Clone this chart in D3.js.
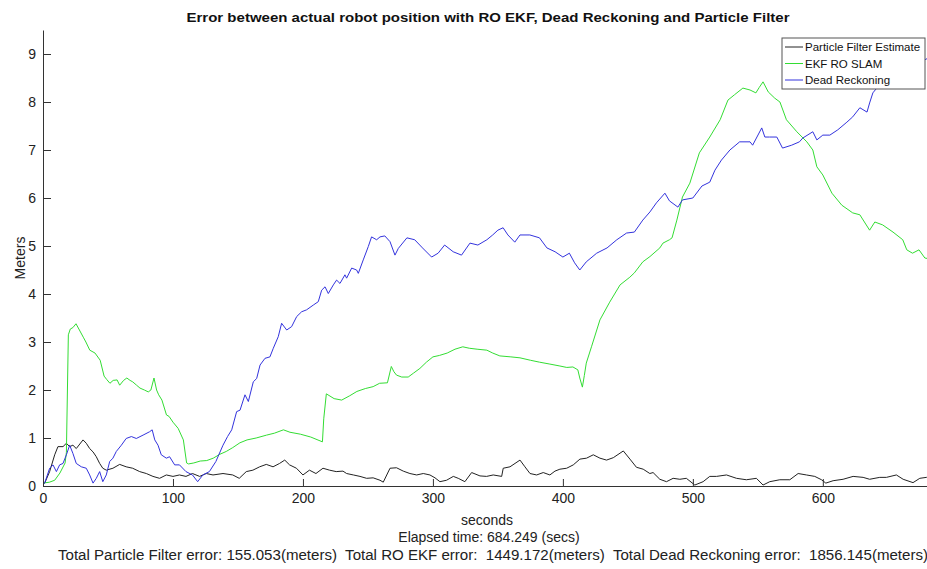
<!DOCTYPE html>
<html>
<head>
<meta charset="utf-8">
<script src="https://cdn.jsdelivr.net/npm/d3@7"></script>
<style>
  body { margin: 0; background: #fff; }
  text { font-family: Arial, "Liberation Sans", sans-serif; }
</style>
</head>
<body>
<svg id="chart"></svg>
<script>
// error curves, [seconds, meters]
var particleFilter = [[0,0.04],[1.3,0.06],[5.1,0.3],[9,0.65],[11.5,0.82],[15.4,0.82],[18,0.89],[20.5,0.82],[23,0.85],[25.6,0.78],[30.8,0.96],[33.3,0.89],[35.9,0.78],[38.5,0.71],[41,0.61],[43.6,0.47],[46,0.37],[48.7,0.33],[53.8,0.37],[59,0.45],[64,0.4],[69,0.37],[74.4,0.3],[79.5,0.26],[84.6,0.2],[89.7,0.16],[94.9,0.23],[100,0.2],[105,0.23],[110,0.2],[115,0.26],[120.5,0.2],[125.6,0.26],[130.8,0.23],[138.5,0.26],[146,0.23],[151,0.16],[156.4,0.3],[161.5,0.33],[166.7,0.4],[171.8,0.45],[177,0.4],[182,0.47],[186,0.54],[189.7,0.44],[195,0.37],[200,0.23],[205,0.33],[210,0.26],[215.4,0.37],[220.5,0.33],[225.6,0.3],[230.8,0.31],[233.6,0.26],[238.8,0.23],[243.9,0.2],[249,0.16],[254,0.17],[259.3,0.12],[261.8,0.08],[267,0.37],[272,0.38],[277.2,0.31],[282.3,0.26],[287.5,0.23],[292.6,0.26],[297.7,0.23],[301.6,0.17],[305.4,0.09],[310.5,0.12],[315.7,0.2],[319.5,0.16],[324.6,0.09],[329.8,0.28],[336.2,0.21],[341.3,0.2],[346.4,0.23],[352.9,0.2],[354.1,0.37],[359.3,0.4],[367,0.54],[370.8,0.4],[374.7,0.26],[379.8,0.23],[384.9,0.28],[390,0.23],[393.9,0.31],[397.7,0.35],[402.9,0.37],[408,0.44],[413.1,0.56],[418.2,0.58],[423.4,0.65],[428.5,0.58],[433.6,0.54],[438.8,0.59],[446.5,0.73],[451.6,0.56],[456.6,0.39],[461.8,0.35],[466.9,0.26],[469.4,0.28],[474.6,0.14],[479.7,0.09],[484.8,0.16],[490,0.14],[495,0.16],[501.5,0.02],[507.9,0.09],[513,0.2],[518.2,0.2],[525.9,0.23],[533.6,0.16],[541.2,0.13],[548.9,0.16],[554,0.02],[559.2,0.09],[566.9,0.13],[574.6,0.13],[581,0.26],[587.4,0.23],[593.8,0.2],[599,0.13],[602.3,0.06],[607.9,0.11],[615.6,0.14],[623.3,0.2],[631,0.18],[636,0.14],[643.8,0.18],[648.9,0.18],[656.6,0.23],[661.8,0.14],[669.4,0.07],[674.6,0.16],[679.7,0.18],[684,0.17]];

var ekfSlam = [[0,0.06],[5,0.08],[9,0.12],[13,0.27],[17,0.48],[18,0.7],[18.8,2.0],[19.5,3.15],[21,3.27],[23,3.3],[25.4,3.38],[28,3.25],[31,3.1],[33,3.0],[36,2.83],[40,2.77],[44,2.62],[47,2.29],[49,2.22],[51.5,2.14],[54,2.2],[57,2.21],[59,2.1],[62,2.2],[64.5,2.25],[67,2.2],[69,2.17],[72,2.1],[74.6,2.04],[78,2.0],[81,1.96],[83,2.0],[85.4,2.25],[87.4,2.0],[89,1.9],[91.5,1.79],[95,1.48],[97,1.45],[100,1.33],[104,1.2],[108,0.96],[110.5,0.48],[112,0.46],[116,0.48],[121,0.52],[126,0.53],[131,0.58],[136,0.66],[141,0.72],[146,0.8],[151.5,0.9],[157,0.96],[164,1.0],[172,1.06],[178,1.1],[185,1.17],[190,1.12],[198,1.08],[206,1.02],[215,0.92],[216,1.4],[218,1.92],[224,1.82],[229.8,1.79],[236,1.88],[241.5,1.97],[248,2.03],[254,2.07],[259,2.14],[265,2.15],[268,2.49],[270,2.38],[272,2.31],[276,2.27],[281,2.27],[285,2.35],[290,2.45],[295,2.58],[300,2.69],[305,2.72],[311,2.77],[317,2.85],[323,2.9],[328,2.87],[334,2.85],[341.5,2.83],[346,2.77],[351.5,2.71],[360,2.69],[367,2.67],[375,2.62],[382,2.58],[390,2.54],[397.7,2.5],[403,2.47],[407.7,2.48],[411.5,2.42],[413,2.25],[415,2.06],[416.5,2.3],[418,2.56],[422,2.9],[428.5,3.46],[436,3.83],[444,4.19],[451.5,4.35],[455,4.44],[461.5,4.67],[467,4.78],[474.6,4.96],[477,5.06],[482,5.13],[484,5.17],[487.7,5.54],[492,6.02],[497.7,6.31],[505,6.94],[513,7.27],[521,7.63],[527,8.04],[532,8.15],[538.5,8.29],[544,8.25],[548.5,8.19],[551,8.3],[554,8.42],[558,8.21],[563,8.08],[567,8.0],[572,7.63],[580,7.38],[587.7,7.17],[592.3,7.0],[595.4,6.65],[600,6.48],[607,6.1],[614.6,5.85],[623,5.69],[628.5,5.65],[632,5.5],[636,5.33],[640,5.5],[646,5.44],[654,5.29],[661.5,5.13],[664.6,4.92],[669,4.85],[674,4.92],[678.5,4.75],[684,4.72]];

var deadReckoning = [[0,0.05],[1.3,0.06],[5.1,0.37],[7.7,0.44],[10.3,0.3],[12.8,0.44],[15.4,0.47],[18,0.65],[20.5,0.85],[23,0.68],[25.6,0.47],[29.5,0.4],[33.3,0.37],[35.9,0.23],[38.5,0.06],[41,0.16],[43.6,0.3],[46,0.09],[48.7,0.23],[51.3,0.51],[53.8,0.58],[56.4,0.72],[60.3,0.85],[64,0.99],[68,1.03],[71.8,0.99],[77,1.06],[82,1.13],[84,1.17],[86,0.96],[88.5,0.85],[91,0.65],[94.9,0.58],[97.4,0.61],[101.3,0.44],[105,0.44],[110,0.3],[115,0.23],[119,0.09],[123,0.23],[128,0.3],[133,0.51],[138.5,0.85],[142,1.03],[145.2,1.17],[149,1.55],[151.6,1.58],[155.4,1.9],[158,1.76],[161.8,2.17],[164.4,2.24],[167,2.52],[170.8,2.66],[174.6,2.69],[177.2,2.87],[181,3.11],[183.6,3.39],[187.5,3.25],[191.3,3.32],[195.2,3.53],[199,3.63],[202.8,3.67],[208,3.77],[211.8,3.84],[214.4,4.08],[217,4.15],[219.5,4.01],[223.4,4.19],[225.9,4.29],[228.5,4.22],[232.3,4.4],[233.6,4.33],[237.5,4.54],[241.3,4.5],[242.6,4.43],[246.4,4.71],[250.3,4.99],[252.8,5.19],[256.7,5.13],[259.3,5.19],[263,5.21],[267,5.09],[270.8,4.81],[273.4,4.95],[280,5.17],[286,5.13],[292,4.96],[299,4.77],[304,4.85],[309,5.02],[315.6,4.88],[322,4.81],[328.5,5.06],[334.6,5.02],[341.5,5.13],[346,5.23],[350,5.33],[354,5.38],[357.7,5.23],[363,5.08],[367,5.23],[374.6,5.23],[382,5.17],[387.7,4.96],[394,4.88],[400,4.77],[405,4.85],[409,4.65],[413,4.5],[418,4.67],[426,4.85],[434,4.96],[441.5,5.13],[449,5.27],[455,5.29],[461.5,5.54],[467,5.71],[472,5.9],[478.5,6.1],[482,5.94],[488.5,5.81],[492,5.96],[500,6.0],[507,6.25],[513,6.33],[517,6.58],[522,6.79],[528.5,7.0],[536,7.17],[544,7.17],[546,7.1],[553,7.46],[555.4,7.27],[559,7.27],[564.6,7.27],[569,7.04],[576,7.1],[582,7.17],[584.6,7.25],[592.3,7.38],[595.4,7.21],[600,7.31],[605.4,7.31],[611.5,7.42],[618.5,7.58],[623,7.69],[628.5,7.88],[634,7.79],[636,7.98],[638.5,8.19],[641.5,8.29],[648,8.4],[660,8.6],[672,8.8],[684,8.95]];

var seriesNames = ["Particle Filter Estimate", "EKF RO SLAM", "Dead Reckoning"];
var seriesColors = ["#222222", "#33dd33", "#3333dd"];
var xTicks = [0, 100, 200, 300, 400, 500, 600];
var yTicks = [0, 1, 2, 3, 4, 5, 6, 7, 8, 9];

var titleText = "Error between actual robot position with RO EKF, Dead Reckoning and Particle Filter";
var elapsedText = "Elapsed time: 684.249 (secs)";
var totalsText = "Total Particle Filter error: 155.053(meters)  Total RO EKF error:  1449.172(meters)  Total Dead Reckoning error:  1856.145(meters)";

var W = 927, H = 569;
var margin = { top: 30, left: 43, bottom: 83 };
var plotW = 889; // axes run past the right edge of the picture
var plotH = H - margin.top - margin.bottom;

var svg = d3.select("#chart").attr("width", W).attr("height", H);

var x = d3.scaleLinear().domain([0, 684]).range([margin.left, margin.left + plotW]);
var y = d3.scaleLinear().domain([0, 9.5]).range([margin.top + plotH, margin.top]);

svg.append("defs").append("clipPath").attr("id", "plot-clip")
    .append("rect")
    .attr("x", margin.left).attr("y", margin.top)
    .attr("width", plotW).attr("height", plotH);

// title
svg.append("text")
    .attr("x", 488).attr("y", 22)
    .attr("text-anchor", "middle")
    .attr("font-size", 13).attr("font-weight", "bold")
    .attr("textLength", 603).attr("lengthAdjust", "spacingAndGlyphs")
    .attr("fill", "#111")
    .text(titleText);

// lines
var line = d3.line().x(function(d) { return x(d[0]); }).y(function(d) { return y(d[1]); });
var allSeries = [particleFilter, ekfSlam, deadReckoning];

svg.append("g").attr("clip-path", "url(#plot-clip)")
    .selectAll("path")
    .data(allSeries)
    .enter().append("path")
    .attr("fill", "none")
    .attr("stroke", function(d, i) { return seriesColors[i]; })
    .attr("stroke-width", 1)
    .attr("stroke-linejoin", "round")
    .attr("d", line);

// axes with inward ticks, matlab style
var xAxis = svg.append("g")
    .attr("transform", "translate(0," + (margin.top + plotH) + ")")
    .call(d3.axisBottom(x).tickValues(xTicks).tickSizeInner(-7).tickSizeOuter(0).tickPadding(7));
var yAxis = svg.append("g")
    .attr("transform", "translate(" + margin.left + ",0)")
    .call(d3.axisLeft(y).tickValues(yTicks).tickSizeInner(-8).tickSizeOuter(0).tickPadding(7));

[xAxis, yAxis].forEach(function(ax) {
    ax.select(".domain").attr("stroke", "#333");
    ax.selectAll(".tick line").attr("stroke", "#333");
    ax.selectAll(".tick text")
        .attr("font-family", "Arial, 'Liberation Sans', sans-serif")
        .attr("font-size", 14).attr("fill", "#222");
});

// axis labels
svg.append("text")
    .attr("transform", "translate(25," + (margin.top + plotH / 2) + ") rotate(-90)")
    .attr("text-anchor", "middle")
    .attr("font-size", 14).attr("fill", "#222")
    .text("Meters");

svg.append("text")
    .attr("x", 487).attr("y", 525)
    .attr("text-anchor", "middle")
    .attr("font-size", 14).attr("fill", "#222")
    .text("seconds");

svg.append("text")
    .attr("x", 489).attr("y", 542)
    .attr("text-anchor", "middle")
    .attr("font-size", 14).attr("fill", "#222")
    .text(elapsedText);

svg.append("text")
    .attr("x", 58).attr("y", 560)
    .attr("font-size", 14).attr("fill", "#222")
    .style("white-space", "pre")
    .attr("textLength", 870).attr("lengthAdjust", "spacingAndGlyphs")
    .text(totalsText);

// legend
var legend = svg.append("g").attr("transform", "translate(782,38)");
legend.append("rect")
    .attr("width", 143).attr("height", 51)
    .attr("fill", "#fff").attr("stroke", "#555").attr("stroke-width", 1);

legend.selectAll("g.entry")
    .data(seriesNames)
    .enter().append("g")
    .attr("class", "entry")
    .attr("transform", function(d, i) { return "translate(0," + (9 + i * 16.5) + ")"; })
    .each(function(d, i) {
        var g = d3.select(this);
        g.append("line")
            .attr("x1", 3).attr("x2", 21)
            .attr("stroke", seriesColors[i]).attr("stroke-width", 1);
        g.append("text")
            .attr("x", 23).attr("dy", "0.35em")
            .attr("font-size", 11.5).attr("fill", "#111")
            .text(d);
    });
</script>
</body>
</html>
